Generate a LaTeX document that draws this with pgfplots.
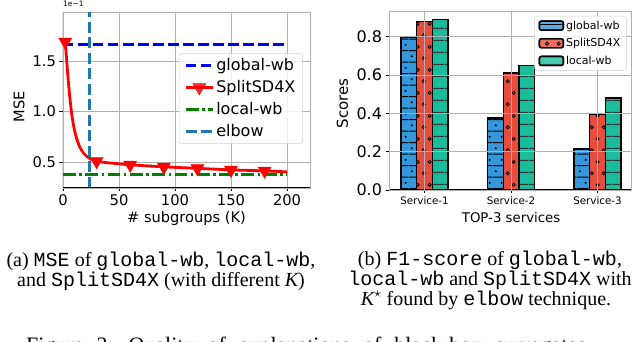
\documentclass[border=0pt]{standalone}
\usepackage{fontspec}
\setmainfont{DejaVu Sans}
\newfontfamily\capserif{Liberation Serif}
\newfontfamily\capmono{Liberation Mono}
\usepackage{pgfplots}
\pgfplotsset{compat=1.18}
\usetikzlibrary{patterns.meta}

\definecolor{fblue}{HTML}{3498DB}
\definecolor{fred}{HTML}{E74C3C}
\definecolor{fgreen}{HTML}{1ABC9C}
\definecolor{tabblue}{HTML}{1F77B4}
\definecolor{gridgray}{HTML}{B0B0B0}
\definecolor{mplgreen}{HTML}{008000}

% hatches
\tikzdeclarepattern{
  name=linedots, type=uncolored,
  bottom left={(0pt,0pt)}, top right={(11.7pt,23.4pt)},
  tile size={(11.7pt,23.4pt)},
  code={
    \draw[line width=1pt] (0pt,2pt) -- (11.7pt,2pt);
    \draw[line width=1pt] (0pt,13.7pt) -- (11.7pt,13.7pt);
    \fill (2.9pt,7.85pt) circle (1.2pt);
    \fill (8.8pt,19.55pt) circle (1.2pt);
  }
}
\tikzdeclarepattern{
  name=ocircles, type=uncolored,
  bottom left={(0pt,0pt)}, top right={(11.7pt,23.4pt)},
  tile size={(11.7pt,23.4pt)},
  code={
    \draw[line width=0.8pt] (2.9pt,5.85pt) circle (1.6pt);
    \draw[line width=0.8pt] (8.8pt,17.55pt) circle (1.6pt);
  }
}
\tikzdeclarepattern{
  name=hlines, type=uncolored,
  bottom left={(0pt,0pt)}, top right={(11.7pt,11.7pt)},
  tile size={(11.7pt,11.7pt)},
  code={
    \draw[line width=1pt] (0pt,5.85pt) -- (11.7pt,5.85pt);
  }
}

\pgfplotsset{
  mplaxis/.style={
    scale only axis,
    grid=major,
    grid style={gridgray, line width=0.8pt},
    axis line style={gridgray, line width=0.8pt},
    tick align=outside,
    xtick pos=bottom, ytick pos=left,
    major tick length=3.5pt,
    tick style={black, line width=0.8pt},
    /pgf/number format/assume math mode=true,
    legend cell align=left,
  },
  lineleg/.style={
    legend image code/.code={\draw[##1, mark repeat=2, mark phase=2] plot coordinates {(0pt,0pt) (13.5pt,0pt) (27pt,0pt)};}},
  markleg/.style={
    legend image code/.code={\draw[##1, mark indices={2}] plot coordinates {(0pt,0pt) (13.5pt,0pt) (27pt,0pt)};}},
  barleg/.style={
    legend image code/.code={\draw[##1] (0pt,-4.5pt) rectangle (24pt,4.5pt);}},
}

\begin{document}
\begin{tikzpicture}
\useasboundingbox (0pt,0pt) rectangle (640pt,342pt);

% (a) MSE
\begin{axis}[
  mplaxis, lineleg,
  name=mse,
  at={(63pt,154pt)}, anchor=south west,
  width=247pt, height=176pt,
  xmin=0, xmax=220.5, ymin=0.246, ymax=1.984,
  xtick={0,50,100,150,200},
  ytick={0.5,1.0,1.5},
  yticklabel style={/pgf/number format/.cd, fixed, fixed zerofill, precision=1},
  tick label style={font=\fontsize{14.7}{16}\selectfont},
  xlabel={\# subgroups (K)},
  ylabel={MSE},
  label style={font=\fontsize{14.6}{16}\selectfont},
  xlabel style={at={(axis description cs:0.5,-0.172)}, anchor=center},
  ylabel style={at={(axis description cs:-0.178,0.46)}, anchor=center},
  legend style={at={(0.970,0.765)}, anchor=north east,
    font=\fontsize{16}{17}\selectfont,
    draw=gridgray!60, fill=white, fill opacity=0.8, text opacity=1,
    rounded corners=2pt, inner xsep=5pt, inner ysep=3pt, row sep=4.4pt},
]
\addplot[blue, line width=3pt, dash pattern=on 10.5pt off 4.5pt]
  coordinates {(0,1.665) (200,1.665)};
\addlegendentry{global-wb}
\addplot[red, line width=2.8pt, smooth, markleg,
  mark=triangle*, mark size=7.5pt,
  mark options={rotate=180, fill=red, draw=red, line width=0.5pt, solid},
  mark indices={1,13,16,17,18,19,20}]
  coordinates {(2,1.69) (3,1.55) (4,1.40) (5,1.27) (6,1.15) (8,0.96) (10,0.83)
    (12,0.74) (15,0.65) (18,0.595) (21,0.56) (25,0.53) (30,0.51) (40,0.495)
    (50,0.485) (60,0.475) (90,0.455) (120,0.44) (150,0.425) (180,0.415) (200,0.405)};
\addlegendentry{SplitSD4X}
\addplot[mplgreen, line width=3pt, dash pattern=on 12.8pt off 3.5pt on 2.5pt off 3.5pt]
  coordinates {(0,0.38) (200,0.38)};
\addlegendentry{local-wb}
\addplot[tabblue, line width=3pt, dash pattern=on 11pt off 4.5pt]
  coordinates {(24,0.246) (24,1.984)};
\addlegendentry{elbow}
\draw[black, line width=1pt] (rel axis cs:0,1) -- (rel axis cs:0,0) -- (rel axis cs:1,0);
\end{axis}
\node[anchor=south west, inner sep=0pt, yshift=4.7pt, font=\fontsize{7.5}{8}\selectfont]
  at (mse.north west) {1e−1};

% (b) F1-score
\begin{axis}[
  mplaxis,
  axis on top,
  at={(389pt,152pt)}, anchor=south west,
  width=242.7pt, height=178.3pt,
  xmin=-0.41, xmax=2.395, ymin=0, ymax=0.931,
  ybar=0pt, bar width=15.6pt,
  barleg,
  xtick={0,1,2},
  xticklabels={Service-1,Service-2,Service-3},
  ytick={0,0.2,0.4,0.6,0.8},
  yticklabel style={/pgf/number format/.cd, fixed, fixed zerofill, precision=1,
    /tikz/font=\fontsize{16}{18}\selectfont},
  xticklabel style={font=\fontsize{10.3}{12}\selectfont},
  xlabel={TOP-3 services},
  ylabel={Scores},
  xlabel style={font=\fontsize{13.3}{15}\selectfont, at={(axis description cs:0.503,-0.157)}, anchor=center},
  ylabel style={font=\fontsize{15}{17}\selectfont, at={(axis description cs:-0.192,0.486)}, anchor=center},
  legend style={at={(0.979,0.976)}, anchor=north east,
    font=\fontsize{11}{12}\selectfont,
    draw=gridgray!60, fill=white, fill opacity=0.8, text opacity=1,
    rounded corners=2pt, inner xsep=4pt, inner ysep=2.5pt, row sep=3.8pt},
]
\addplot[fill=fblue, draw=black, line width=1.4pt,
  postaction={pattern=linedots, pattern color=black}]
  coordinates {(0,0.795) (1,0.375) (2,0.215)};
\addlegendentry{global-wb}
\addplot[fill=fred, draw=black, line width=1.4pt,
  postaction={pattern=ocircles, pattern color=black}]
  coordinates {(0,0.88) (1,0.61) (2,0.395)};
\addlegendentry{SplitSD4X}
\addplot[fill=fgreen, draw=black, line width=1.4pt,
  postaction={pattern=hlines, pattern color=black!80}]
  coordinates {(0,0.89) (1,0.65) (2,0.48)};
\addlegendentry{local-wb}
\draw[black, line width=1pt] (rel axis cs:0,1) -- (rel axis cs:0,0) -- (rel axis cs:1,0);
\draw[black!70, line width=1pt] (rel axis cs:1,0) -- (rel axis cs:1,1);
\end{axis}

% captions
\begin{scope}[every node/.style={anchor=base, inner sep=0pt,
    font=\capserif\fontsize{20}{20}\selectfont}]
\node at (161pt,75.5pt) {(a) {\capmono MSE} of {\capmono global-wb}, {\capmono local-wb},};
\node at (161pt,55pt) {and {\capmono SplitSD4X} (with different {\itshape K})};
\node at (490pt,76.5pt) {(b) {\capmono F1-score} of {\capmono global-wb},};
\node at (490pt,56.5pt) {{\capmono local-wb} and {\capmono SplitSD4X} with};
\node at (486pt,36.5pt) {{\itshape K}$^{\star}$ found by {\capmono elbow} technique.};
\end{scope}
\node[anchor=base west, inner sep=0pt, font=\capserif\fontsize{22}{24}\selectfont]
  at (26pt,-10.6pt) {\spaceskip=13pt Figure 2: Quality of explanations of black-box surrogates};
\end{tikzpicture}
\end{document}
